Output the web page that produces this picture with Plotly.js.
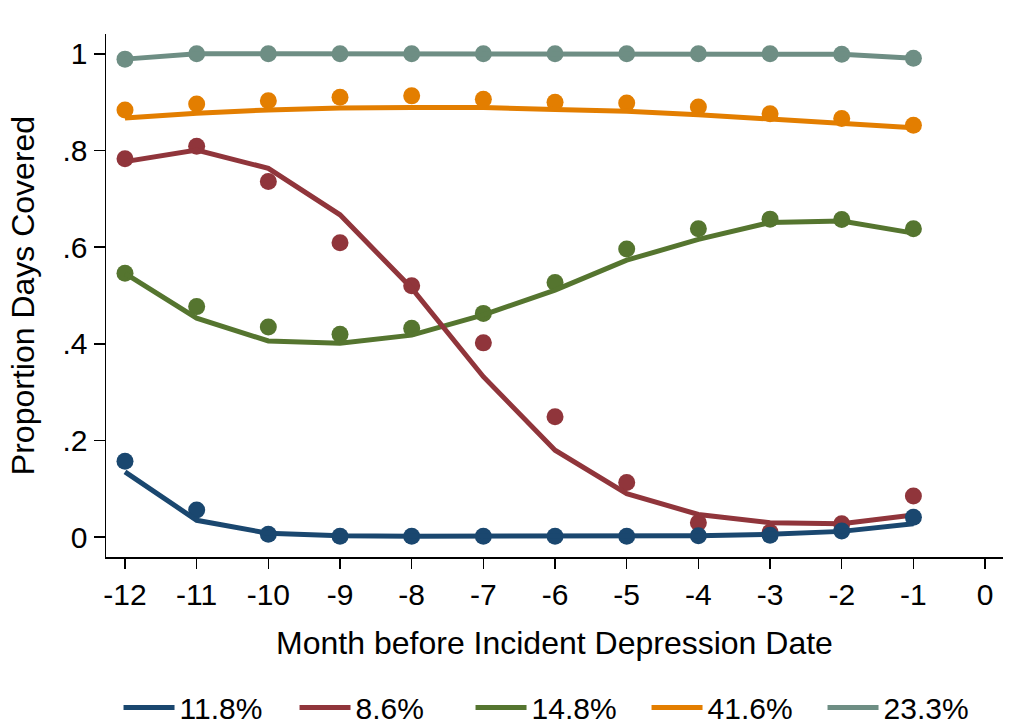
<!DOCTYPE html>
<html>
<head>
<meta charset="utf-8">
<script src="https://cdn.plot.ly/plotly-3.0.1.min.js"></script>
<style>html,body{margin:0;padding:0;background:#fff;}#chart{width:1010px;height:725px;}</style>
</head>
<body>
<div id="chart"></div>
<script>
const months = [-12,-11,-10,-9,-8,-7,-6,-5,-4,-3,-2,-1];
const seriesNames = ["11.8%","8.6%","14.8%","41.6%","23.3%"];
const seriesColors = ["#1a476f","#90353b","#55752f","#e37e00","#6e8e84"];

// observed proportions (dots)
const blueObs   = [0.157,0.056,0.006,0.002,0.002,0.002,0.002,0.002,0.003,0.004,0.013,0.041];
const redObs    = [0.783,0.809,0.736,0.609,0.520,0.402,0.249,0.113,0.030,0.010,0.028,0.085];
const greenObs  = [0.546,0.477,0.435,0.420,0.432,0.463,0.527,0.596,0.638,0.658,0.657,0.638];
const orangeObs = [0.884,0.896,0.903,0.910,0.913,0.906,0.900,0.898,0.890,0.876,0.866,0.852];
const grayObs   = [0.989,1.000,1.000,1.000,1.000,1.000,1.000,1.000,1.000,1.000,0.999,0.991];

// fitted trajectories (lines)
const blueFit   = [0.135,0.035,0.008,0.003,0.002,0.002,0.002,0.002,0.003,0.006,0.012,0.028];
const redFit    = [0.777,0.801,0.763,0.667,0.515,0.332,0.180,0.090,0.047,0.030,0.028,0.046];
const greenFit  = [0.546,0.453,0.406,0.401,0.418,0.460,0.511,0.573,0.616,0.651,0.654,0.629];
const orangeFit = [0.867,0.877,0.884,0.888,0.889,0.889,0.885,0.881,0.874,0.865,0.856,0.847];
const grayFit   = [0.989,1.000,1.000,1.000,1.000,1.000,1.000,1.000,1.000,1.000,0.999,0.991];

const xTickVals = [-12,-11,-10,-9,-8,-7,-6,-5,-4,-3,-2,-1,0];
const xTickText = ["-12","-11","-10","-9","-8","-7","-6","-5","-4","-3","-2","-1","0"];
const yTickVals = [0,0.2,0.4,0.6,0.8,1];
const yTickText = ["0",".2",".4",".6",".8","1"];

const obs = [blueObs, redObs, greenObs, orangeObs, grayObs];
const fit = [blueFit, redFit, greenFit, orangeFit, grayFit];

const traces = [];
for (let i = seriesNames.length - 1; i >= 0; i--) {
  traces.push({
    x: months, y: obs[i], type: "scatter", mode: "markers",
    marker: {color: seriesColors[i], size: 17},
    showlegend: false, hoverinfo: "skip"
  });
  traces.push({
    x: months, y: fit[i], type: "scatter", mode: "lines",
    line: {color: seriesColors[i], width: 5},
    name: seriesNames[i], legendrank: i + 1
  });
}

const font = {family: "Liberation Sans, Arial, Helvetica, sans-serif", color: "#000"};

const layout = {
  width: 1010, height: 725,
  margin: {l: 106, r: 7, t: 34, b: 168},
  paper_bgcolor: "#fff", plot_bgcolor: "#fff",
  font: Object.assign({size: 30}, font),
  xaxis: {
    range: [-12.265, 0.25],
    tickvals: xTickVals, ticktext: xTickText,
    ticks: "outside", ticklen: 10, tickwidth: 1.5, tickcolor: "#000",
    showline: true, linecolor: "#000", linewidth: 1.5,
    showgrid: false, zeroline: false, automargin: false,
    tickfont: {size: 30},
    title: {text: "Month before Incident Depression Date", font: {size: 32}, standoff: 22}
  },
  yaxis: {
    range: [-0.041, 1.041],
    tickvals: yTickVals, ticktext: yTickText,
    ticks: "outside", ticklen: 11, tickwidth: 1.5, tickcolor: "#000",
    showline: true, linecolor: "#000", linewidth: 1.5,
    showgrid: false, zeroline: false, automargin: false,
    tickfont: {size: 30},
    title: {text: "Proportion Days Covered", font: {size: 32}, standoff: 18}
  },
  legend: {
    orientation: "h", xref: "container", yref: "container",
    x: 0.553, xanchor: "center", y: 0.024, yanchor: "middle",
    font: {size: 30}, traceorder: "normal", itemwidth: 51,
    entrywidth: 110, entrywidthmode: "pixels"
  }
};

Plotly.newPlot("chart", traces, layout, {displayModeBar: false, staticPlot: true});
</script>
</body>
</html>
